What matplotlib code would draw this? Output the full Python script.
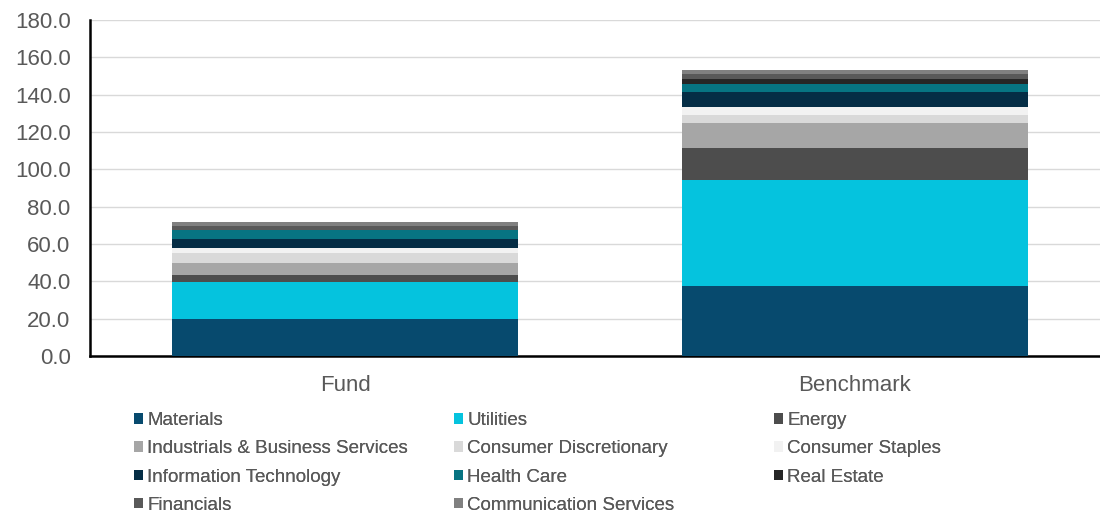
import numpy as np
import matplotlib.pyplot as plt

plt.rcParams["font.family"] = ["Liberation Sans", "DejaVu Sans"]

# Données
categories = ["Fund", "Benchmark"]
sectors = ["Materials", "Utilities", "Energy", "Industrials & Business Services",
           "Consumer Discretionary", "Consumer Staples", "Information Technology",
           "Health Care", "Real Estate", "Financials", "Communication Services"]
fund = [19.7, 19.8, 4.0, 6.4, 5.3, 2.6, 5.0, 4.6, 0.3, 2.1, 2.1]
benchmark = [37.5, 56.8, 16.9, 13.8, 4.1, 4.4, 7.9, 4.3, 2.8, 2.5, 2.1]
colors = ["#074A6E", "#05C3DE", "#4D4D4D", "#A6A6A6", "#D9D9D9", "#F2F2F2",
          "#052D45", "#077482", "#262626", "#595959", "#808080"]

values = np.array([fund, benchmark])
x = np.arange(len(categories))

fig = plt.figure(figsize=(11, 5.12), dpi=100)
ax = fig.add_axes([90 / 1100, 1 - 356 / 512, 1020 / 1100, 336 / 512])

bottom = np.zeros(len(categories))
bars = []
for i, name in enumerate(sectors):
    b = ax.bar(x, values[:, i], 0.677, bottom=bottom, color=colors[i], label=name, zorder=3)
    bars.append(b)
    bottom += values[:, i]

ax.set_xlim(-0.5, 1.5)
ax.set_ylim(0, 180)
ax.set_yticks(np.arange(0, 181, 20))
ax.set_yticklabels([f"{v:.1f}" for v in np.arange(0, 181, 20)])
ax.set_xticks(x)
ax.set_xticklabels(categories)
ax.tick_params(axis="both", length=0, colors="#595959")
ax.tick_params(axis="y", labelsize=16, pad=14)
ax.tick_params(axis="x", labelsize=16, pad=14)
ax.grid(axis="y", color="#D9D9D9", lw=1, zorder=0)
for s in ["top", "right"]:
    ax.spines[s].set_visible(False)
ax.spines["left"].set_linewidth(1.8)
ax.spines["bottom"].set_linewidth(1.8)

# légende en 3 colonnes régulières (une légende par colonne)
columns = [[0, 3, 6, 9], [1, 4, 7, 10], [2, 5, 8]]
x_cols = [134, 454, 774]
for col, xc in zip(columns, x_cols):
    leg = fig.legend([bars[i] for i in col], [sectors[i] for i in col],
                     loc="upper left", bbox_to_anchor=(xc / 1100, 1 - 412 / 512),
                     frameon=False, fontsize=13.5, labelcolor="#595959",
                     handlelength=0.5, handleheight=0.5, handletextpad=0.2,
                     labelspacing=0.6, borderaxespad=0, borderpad=0)
    fig.add_artist(leg)

plt.savefig("out.png", dpi=100)
